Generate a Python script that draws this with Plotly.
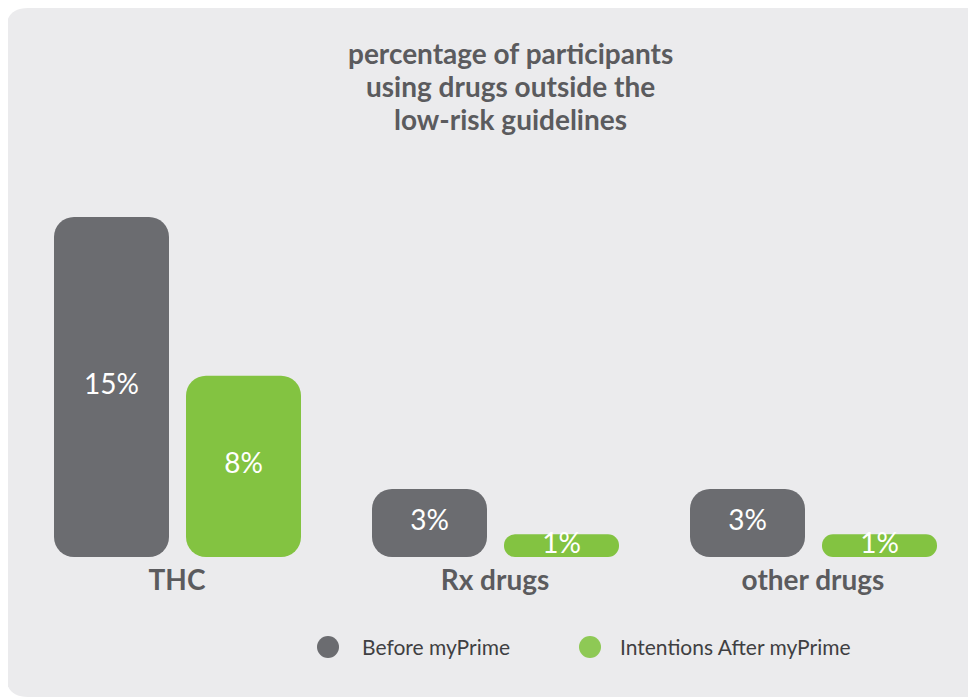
import plotly.graph_objects as go

# ---------------- data ----------------
categories = ["THC", "Rx drugs", "other drugs"]
before_values = [15, 3, 3]
after_values = [8, 1, 1]
series_names = ["Before myPrime", "Intentions After myPrime"]
title_lines = ["percentage of participants", "using drugs outside the", "low-risk guidelines"]

# ---------------- styles ----------------
GRAY = "#6b6c70"
GREEN = "#83c341"
GREEN_LEG = "#8ec955"
PANEL = "#ebebed"
TITLE_COL = "#5b5b5e"
LEG_TXT = "#3f3f42"

OFF = 8  # page body margin
W, H = 976 - OFF, 698 - OFF
ML = 18 - OFF
MR = 4
MT = 170 - OFF
BOTTOM = 557 - OFF
MB = H - BOTTOM
PW = W - ML - MR
PH = H - MT - MB
px_per_unit = 340 / 15.0
YMAX = PH / px_per_unit

bar_w = 115 / 318.0
offsets = [-123 / 318.0, 9 / 318.0]
colors = [GRAY, GREEN]
legend_colors = [GRAY, GREEN_LEG]
series = [before_values, after_values]

xs = list(range(len(categories)))


def px2x(p):
    return (p - OFF - ML) / PW


def px2y(p):
    return (BOTTOM - (p - OFF)) / PH


fig = go.Figure()

for s_idx, vals in enumerate(series):
    fig.add_trace(go.Bar(
        x=xs, y=vals, base=[0] * len(vals),
        width=bar_w, offset=offsets[s_idx],
        marker=dict(color=colors[s_idx], line=dict(width=0)),
        showlegend=False, hoverinfo="skip"))
    fig.add_trace(go.Scatter(
        x=[x + offsets[s_idx] + bar_w / 2 for x in xs],
        y=[v / 2 for v in vals],
        mode="text", text=[f"{v}%" for v in vals],
        textfont=dict(family="Lato", size=28, color="white"),
        showlegend=False, hoverinfo="skip", cliponaxis=False))

# legend: one legend per entry, symbols drawn as larger circles
legend_text_x = [362, 620]
legend_circle_x = [328, 590]
LEG_Y = 647
for i, (name, col) in enumerate(zip(series_names, legend_colors)):
    lg = "legend" if i == 0 else f"legend{i + 1}"
    fig.add_trace(go.Scatter(
        x=[None], y=[None], mode="markers", name=name, legend=lg,
        marker=dict(symbol="circle", size=16, color="rgba(0,0,0,0)",
                    line=dict(width=0, color="rgba(0,0,0,0)"))))
    fig.add_shape(type="circle", xref="paper", yref="paper",
                  x0=px2x(legend_circle_x[i] - 11), x1=px2x(legend_circle_x[i] + 11),
                  y0=px2y(LEG_Y + 11), y1=px2y(LEG_Y - 11),
                  fillcolor=col, line=dict(width=0), layer="above")

legend_common = dict(orientation="h", xanchor="left", yanchor="middle",
                     font=dict(family="Lato", size=21, color=LEG_TXT),
                     bgcolor="rgba(0,0,0,0)", itemclick=False,
                     itemdoubleclick=False)

# rounded background panel
x0, y0, x1, y1, r = 6, 8, 990, 697, 22
path = (
    f"M {px2x(x0 + r)},{px2y(y0)} L {px2x(x1 - r)},{px2y(y0)} "
    f"Q {px2x(x1)},{px2y(y0)} {px2x(x1)},{px2y(y0 + r)} "
    f"L {px2x(x1)},{px2y(y1 - r)} Q {px2x(x1)},{px2y(y1)} {px2x(x1 - r)},{px2y(y1)} "
    f"L {px2x(x0 + r)},{px2y(y1)} Q {px2x(x0)},{px2y(y1)} {px2x(x0)},{px2y(y1 - r)} "
    f"L {px2x(x0)},{px2y(y0 + r)} Q {px2x(x0)},{px2y(y0)} {px2x(x0 + r)},{px2y(y0)} Z"
)
fig.add_shape(type="path", path=path, xref="paper", yref="paper",
              fillcolor=PANEL, line=dict(width=0), layer="below")

# title, one line per annotation to control line spacing
title_y = [53, 86, 119]
for line, ty in zip(title_lines, title_y):
    fig.add_annotation(
        text=line, xref="paper", yref="paper",
        x=px2x(510), y=px2y(ty), xanchor="center", yanchor="middle",
        showarrow=False,
        font=dict(family="Lato", size=28, color=TITLE_COL, weight="bold"))

fig.update_layout(
    width=W, height=H,
    margin=dict(l=ML, r=MR, t=MT, b=MB, pad=0),
    paper_bgcolor="white", plot_bgcolor="rgba(0,0,0,0)",
    barmode="overlay", barcornerradius=20,
    showlegend=True,
    legend=dict(x=px2x(legend_text_x[0] - 40), y=px2y(LEG_Y), **legend_common),
    legend2=dict(x=px2x(legend_text_x[1] - 40), y=px2y(LEG_Y), **legend_common),
    xaxis=dict(range=[-0.5, len(categories) - 0.5], tickmode="array",
               tickvals=xs, ticktext=categories, showgrid=False,
               zeroline=False, showline=False, ticks="",
               ticklabelstandoff=4,
               tickfont=dict(family="Lato", size=28, color=TITLE_COL, weight="bold"),
               fixedrange=True),
    yaxis=dict(range=[0, YMAX], visible=False, showgrid=False,
               zeroline=False, fixedrange=True),
)

fig.write_html("out.html")
